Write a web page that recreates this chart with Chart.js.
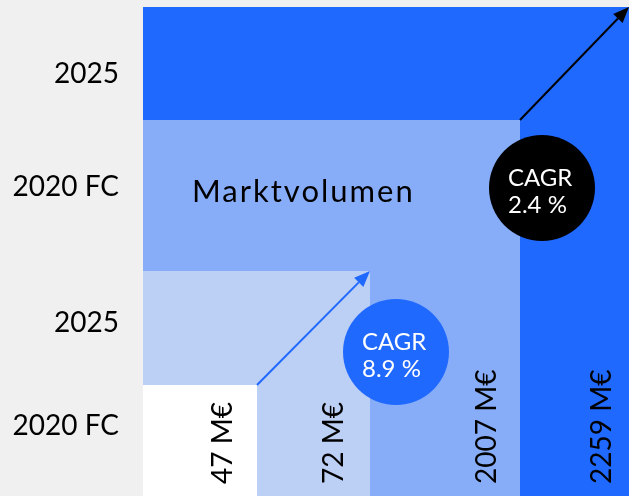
<!DOCTYPE html>
<html>
<head>
<meta charset="utf-8">
<script src="https://cdn.jsdelivr.net/npm/chart.js@4.4.0/dist/chart.umd.min.js"></script>
<style>
  html,body{ margin:0; padding:0; background:#f0f0f0; }
  #wrap{ width:629px; height:496px; position:relative; }
</style>
</head>
<body>
<div id="wrap"><canvas id="chart" width="629" height="496"></canvas></div>
<script>
/* ---------- Data ---------- */
// nested squares, smallest first (drawn on top)
const BOX_W      = [114, 227, 377, 486];
const BOX_H      = [111, 225, 376, 489];
const BOX_COLORS = ['#ffffff', '#bccff5', '#88adf8', '#2069ff'];
const VALUE_LABELS = ['47 M€', '72 M€', '2007 M€', '2259 M€'];
const VALUE_X      = [80, 191, 344, 459];

const TICK_VALUES = [70, 173, 309, 422];
const TICK_LABELS = ['2020 FC', '2025', '2020 FC', '2025'];

const CAGR_TEXT   = ['8.9 %', '2.4 %'];
const CAGR_CENTER = [[253, 144], [399, 308]];
const CAGR_COLORS = ['#2069ff', '#000000'];
const ARROW_COLORS = ['#2069ff', '#000000'];
// arrows: from corner of box -> corner of next box
const ARROWS = [[0, 1], [2, 3]];

const TITLE = 'Marktvolumen';
const FONT = 'Lato, "Open Sans", sans-serif';

/* ---------- Overlay plugin ---------- */
const overlay = {
  id: 'overlay',
  afterDatasetsDraw(chart){
    const {ctx, scales:{x, y}} = chart;
    ctx.save();
    // title text
    ctx.fillStyle = '#000';
    ctx.font = '31px ' + FONT;
    ctx.letterSpacing = '2px';
    ctx.textAlign = 'left';
    ctx.textBaseline = 'alphabetic';
    ctx.fillText(TITLE, x.getPixelForValue(49), y.getPixelForValue(294));
    ctx.letterSpacing = '0px';

    // rotated value labels
    ctx.font = '28px ' + FONT;
    VALUE_LABELS.forEach((t, i)=>{
      ctx.save();
      ctx.translate(x.getPixelForValue(VALUE_X[i]), y.getPixelForValue(12));
      ctx.rotate(-Math.PI/2);
      ctx.textAlign = 'left';
      ctx.textBaseline = 'middle';
      ctx.fillText(t, 0, 0);
      ctx.restore();
    });

    // arrows
    ARROWS.forEach(([a, b], i)=>{
      const x0 = x.getPixelForValue(BOX_W[a]), y0 = y.getPixelForValue(BOX_H[a]);
      const x1 = x.getPixelForValue(BOX_W[b]), y1 = y.getPixelForValue(BOX_H[b]);
      const ang = Math.atan2(y1 - y0, x1 - x0);
      const head = 16, half = 6.5;
      ctx.strokeStyle = ARROW_COLORS[i];
      ctx.fillStyle = ARROW_COLORS[i];
      ctx.lineWidth = 2;
      ctx.beginPath();
      ctx.moveTo(x0, y0);
      ctx.lineTo(x1 - Math.cos(ang)*head, y1 - Math.sin(ang)*head);
      ctx.stroke();
      ctx.beginPath();
      ctx.moveTo(x1, y1);
      ctx.lineTo(x1 - Math.cos(ang)*head - Math.sin(ang)*half, y1 - Math.sin(ang)*head + Math.cos(ang)*half);
      ctx.lineTo(x1 - Math.cos(ang)*head + Math.sin(ang)*half, y1 - Math.sin(ang)*head - Math.cos(ang)*half);
      ctx.closePath();
      ctx.fill();
    });

    // CAGR circles
    CAGR_TEXT.forEach((t, i)=>{
      const cx = x.getPixelForValue(CAGR_CENTER[i][0]);
      const cy = y.getPixelForValue(CAGR_CENTER[i][1]);
      ctx.fillStyle = CAGR_COLORS[i];
      ctx.beginPath();
      ctx.arc(cx, cy, 53, 0, Math.PI*2);
      ctx.fill();
      ctx.fillStyle = '#fff';
      ctx.font = '24px ' + FONT;
      ctx.textAlign = 'left';
      ctx.textBaseline = 'alphabetic';
      ctx.fillText('CAGR', cx - 34, cy - 2);
      ctx.fillText(t, cx - 34, cy + 25);
    });
    ctx.restore();
  }
};

/* ---------- Chart ---------- */
const datasets = BOX_W.map((w, i)=>({
  data: [{x:0, y:BOX_H[i]}, {x:w, y:BOX_H[i]}],
  backgroundColor: BOX_COLORS[i],
  borderWidth: 0,
  pointRadius: 0,
  fill: 'origin',
  order: i
}));

new Chart(document.getElementById('chart'), {
  type: 'line',
  data: { datasets },
  options: {
    responsive: false,
    animation: false,
    layout: { padding: { top: 7, right: 0, bottom: 0, left: 0 } },
    plugins: { legend:{display:false}, tooltip:{enabled:false} },
    scales: {
      x: { type:'linear', min:0, max:486, display:false },
      y: {
        type:'linear', min:0, max:489,
        grid:{ display:false, drawTicks:false },
        border:{ display:false },
        afterFit(scale){ scale.width = 143; scale.paddingTop = 0; scale.paddingBottom = 0; },
        afterBuildTicks(scale){ scale.ticks = TICK_VALUES.map(v=>({value:v})); },
        ticks:{
          padding: 24,
          color:'#000',
          font:{ family: FONT, size: 28 },
          callback(v){ return TICK_LABELS[TICK_VALUES.indexOf(v)]; }
        }
      }
    }
  },
  plugins: [overlay]
});
</script>
</body>
</html>
